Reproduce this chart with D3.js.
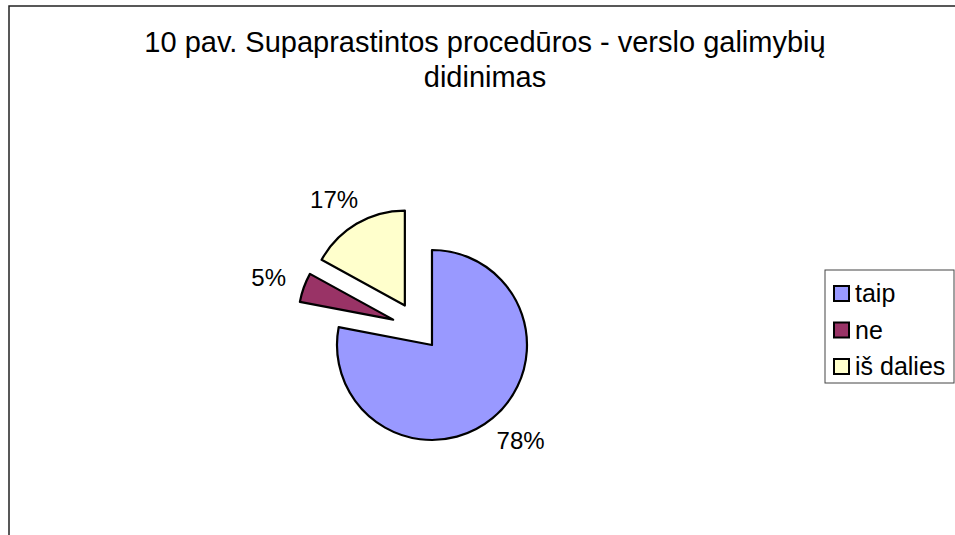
<!DOCTYPE html>
<html>
<head>
<meta charset="utf-8">
<script src="https://cdn.jsdelivr.net/npm/d3@7.9.0/dist/d3.min.js"></script>
<style>
  body { margin: 0; background: #fff; }
  svg { display: block; font-family: "Liberation Sans", Arial, sans-serif; }
</style>
</head>
<body>
<div id="chart"></div>
<script>
// chart data
const titleLines = ["10 pav. Supaprastintos procedūros - verslo galimybių", "didinimas"];
const categories = ["taip", "ne", "iš dalies"];
const values = [78, 5, 17];
const colors = ["#9999FF", "#993366", "#FFFFCC"];

// how far each slice is pulled out of the pie (px)
const explode = [21, 27, 27];

const W = 955, H = 535;
const cx = 418.6, cy = 328.8, R = 95;

const svg = d3.select("#chart").append("svg")
    .attr("width", W)
    .attr("height", H);

// chart area border (right/bottom edges fall outside the window)
svg.append("rect")
    .attr("x", 9).attr("y", 6)
    .attr("width", 952).attr("height", 560)
    .attr("fill", "#fff")
    .attr("stroke", "#222")
    .attr("stroke-width", 1.5);

// title
svg.append("g").selectAll("text")
    .data(titleLines)
    .join("text")
    .attr("x", 485)
    .attr("y", (d, i) => 52 + i * 34.5)
    .attr("text-anchor", "middle")
    .attr("font-size", 29)
    .attr("fill", "#000")
    .text(d => d);

const data = categories.map((c, i) => ({ label: c, value: values[i], color: colors[i], explode: explode[i] }));

const pie = d3.pie().sort(null).value(d => d.value);
const arcs = pie(data);
const arc = d3.arc().innerRadius(0).outerRadius(R);

const dir = d => {
    const mid = (d.startAngle + d.endAngle) / 2;
    return [Math.sin(mid), -Math.cos(mid)];
};

const pieG = svg.append("g").attr("transform", `translate(${cx},${cy})`);

pieG.selectAll("path")
    .data(arcs)
    .join("path")
    .attr("d", arc)
    .attr("transform", d => {
        const [dx, dy] = dir(d);
        return `translate(${dx * d.data.explode},${dy * d.data.explode})`;
    })
    .attr("fill", d => d.data.color)
    .attr("stroke", "#000")
    .attr("stroke-width", 2.2)
    .attr("stroke-linejoin", "round");

// percentage labels, placed just outside each exploded slice
const labelSize = 24;
const capH = labelSize * 0.716;
const total = d3.sum(values);

pieG.selectAll("text.lbl")
    .data(arcs)
    .join("text")
    .attr("class", "lbl")
    .attr("font-size", labelSize)
    .attr("text-anchor", "middle")
    .attr("fill", "#000")
    .text(d => Math.round(d.data.value / total * 100) + "%")
    .each(function (d) {
        const [dx, dy] = dir(d);
        const w = this.getComputedTextLength();
        const r = d.data.explode + R + 20;
        const x = dx * r + dx * w / 2;
        const y = dy * r + dy * capH / 2;
        d3.select(this).attr("x", x).attr("y", y + capH / 2);
    });

// legend
const legend = svg.append("g").attr("transform", "translate(825,270)");

legend.append("rect")
    .attr("width", 129).attr("height", 113)
    .attr("fill", "#fff")
    .attr("stroke", "#444")
    .attr("stroke-width", 1);

const rows = legend.selectAll("g.row")
    .data(data)
    .join("g")
    .attr("class", "row")
    .attr("transform", (d, i) => `translate(0,${23 + i * 36.5})`);

rows.append("rect")
    .attr("x", 9).attr("y", -7)
    .attr("width", 15).attr("height", 15)
    .attr("fill", d => d.color)
    .attr("stroke", "#000")
    .attr("stroke-width", 2);

rows.append("text")
    .attr("x", 30)
    .attr("y", 9)
    .attr("font-size", 25)
    .attr("fill", "#000")
    .text(d => d.label);
</script>
</body>
</html>
